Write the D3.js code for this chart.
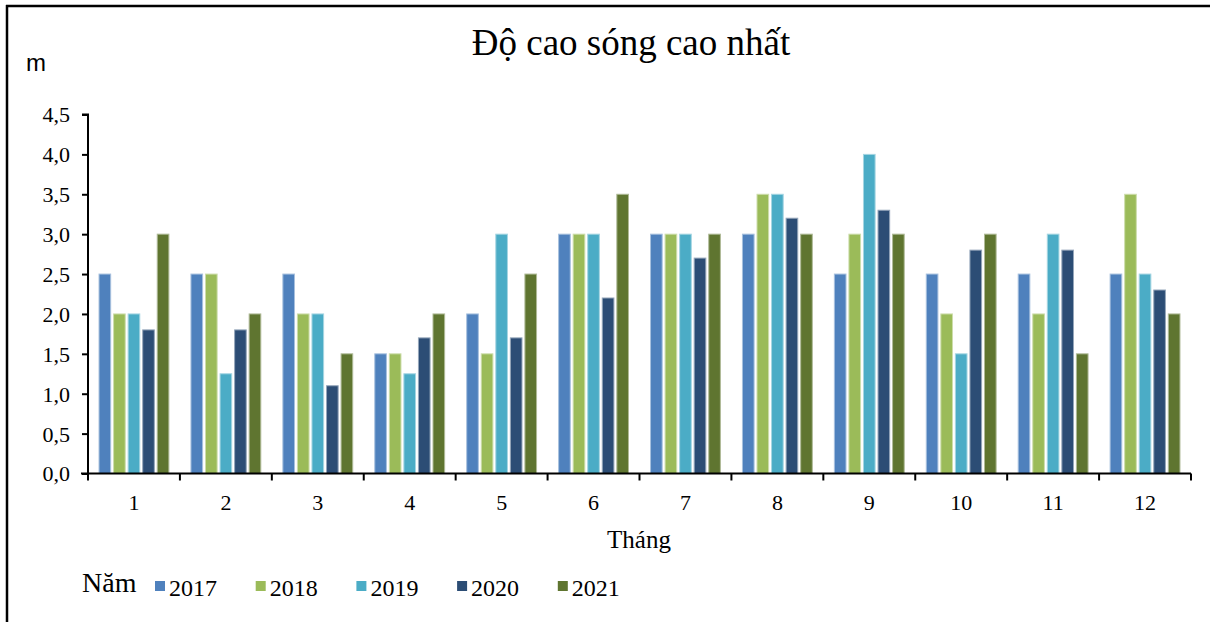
<!DOCTYPE html>
<html>
<head>
<meta charset="utf-8">
<script src="https://cdn.jsdelivr.net/npm/d3@7"></script>
<style>
  html, body { margin: 0; padding: 0; background: #fff; }
  svg { display: block; }
</style>
</head>
<body>
<svg id="chart" width="1210" height="622"></svg>
<script>
// Monthly maximum wave height (m), one series per year
const months = ["1", "2", "3", "4", "5", "6", "7", "8", "9", "10", "11", "12"];
const years = ["2017", "2018", "2019", "2020", "2021"];
const values2017 = [2.5, 2.5, 2.5, 1.5, 2.0, 3.0, 3.0, 3.0, 2.5, 2.5, 2.5, 2.5];
const values2018 = [2.0, 2.5, 2.0, 1.5, 1.5, 3.0, 3.0, 3.5, 3.0, 2.0, 2.0, 3.5];
const values2019 = [2.0, 1.25, 2.0, 1.25, 3.0, 3.0, 3.0, 3.5, 4.0, 1.5, 3.0, 2.5];
const values2020 = [1.8, 1.8, 1.1, 1.7, 1.7, 2.2, 2.7, 3.2, 3.3, 2.8, 2.8, 2.3];
const values2021 = [3.0, 2.0, 1.5, 2.0, 2.5, 3.5, 3.0, 3.0, 3.0, 3.0, 1.5, 2.0];
const yTicks = [0, 0.5, 1.0, 1.5, 2.0, 2.5, 3.0, 3.5, 4.0, 4.5];

const seriesValues = [values2017, values2018, values2019, values2020, values2021];
const colors = ["#4F81BD", "#9BBB59", "#4BACC6", "#2C4D75", "#5F7530"];
const edgeColors = ["#A7C0DE", "#CDDDAC", "#A5D5E2", "#95A6BA", "#AFBA97"];

const svg = d3.select("#chart");
const serif = "'Liberation Serif', 'Times New Roman', serif";
const sans = "'Liberation Sans', Arial, sans-serif";

// frame lines (left and top)
svg.append("line").attr("x1", 7).attr("x2", 7).attr("y1", 5).attr("y2", 622)
  .attr("stroke", "#000").attr("stroke-width", 2.5);
svg.append("line").attr("x1", 6).attr("x2", 1210).attr("y1", 6).attr("y2", 6)
  .attr("stroke", "#000").attr("stroke-width", 2.5);

const plot = { left: 88, right: 1191, top: 114.5, bottom: 473.5 };

const x = d3.scaleBand().domain(months).range([plot.left, plot.right])
  .paddingInner(0.24).paddingOuter(0.12);
const xInner = d3.scaleBand().domain(years).range([0, x.bandwidth()]).paddingInner(0.2);
const y = d3.scaleLinear().domain([0, 4.5]).range([plot.bottom, plot.top]);

// title
svg.append("text").attr("x", 631).attr("y", 55).attr("text-anchor", "middle")
  .attr("font-family", serif).attr("font-size", 37).attr("fill", "#000")
  .text("Độ cao sóng cao nhất");

// unit label
svg.append("text").attr("x", 26).attr("y", 71)
  .attr("font-family", sans).attr("font-size", 24).attr("fill", "#000").text("m");

// bars
const rows = months.map((m, i) => ({ month: m, vals: seriesValues.map(s => s[i]) }));
const groups = svg.append("g").selectAll("g").data(rows).join("g")
  .attr("transform", d => `translate(${x(d.month)},0)`);
groups.selectAll("rect")
  .data(d => d.vals.map((v, j) => ({ year: years[j], v, j })))
  .join("rect")
  .attr("x", d => xInner(d.year))
  .attr("width", xInner.bandwidth())
  .attr("y", d => y(d.v))
  .attr("height", d => y(0) - y(d.v))
  .attr("fill", d => colors[d.j])
  .attr("stroke", d => edgeColors[d.j])
  .attr("stroke-width", 1);

// y axis
const fmt = d => d3.format(".1f")(d).replace(".", ",");
const yAxis = svg.append("g").attr("transform", `translate(${plot.left},0)`)
  .attr("font-family", serif)
  .call(d3.axisLeft(y).tickValues(yTicks).tickFormat(fmt).tickSize(6).tickPadding(12));
yAxis.attr("font-family", serif).attr("font-size", 22);
yAxis.select(".domain").attr("stroke", "#000").attr("stroke-width", 2)
  .attr("d", `M-6,${plot.top}H0V${plot.bottom}`);
yAxis.selectAll(".tick line").attr("stroke", "#000").attr("stroke-width", 2);
yAxis.selectAll(".tick text").attr("font-family", serif).attr("font-size", 22).attr("fill", "#000")
  .attr("dy", "0.34em");

// x axis: baseline with tick marks on category boundaries
const xAxis = svg.append("g");
xAxis.append("line").attr("x1", plot.left - 7).attr("x2", plot.right)
  .attr("y1", plot.bottom).attr("y2", plot.bottom)
  .attr("stroke", "#000").attr("stroke-width", 2);
const boundaries = months.map(m => x(m) - x.step() * x.paddingInner() / 2)
  .concat([plot.right]);
boundaries[0] = plot.left;
xAxis.selectAll("line.tick").data(boundaries).join("line").attr("class", "tick")
  .attr("x1", d => d).attr("x2", d => d)
  .attr("y1", plot.bottom).attr("y2", plot.bottom + 7)
  .attr("stroke", "#000").attr("stroke-width", 2);
xAxis.selectAll("text").data(months).join("text")
  .attr("x", d => x(d) + x.bandwidth() / 2).attr("y", 510)
  .attr("text-anchor", "middle")
  .attr("font-family", serif).attr("font-size", 22).attr("fill", "#000")
  .text(d => d);

// x axis title
svg.append("text").attr("x", 639).attr("y", 548).attr("text-anchor", "middle")
  .attr("font-family", serif).attr("font-size", 25).attr("fill", "#000").text("Tháng");

// legend
const legend = svg.append("g");
legend.append("text").attr("x", 82).attr("y", 592)
  .attr("font-family", serif).attr("font-size", 28).attr("fill", "#000").text("Năm");
const legendStep = 100.7;
const items = legend.selectAll("g.item").data(years).join("g").attr("class", "item")
  .attr("transform", (d, i) => `translate(${155 + i * legendStep},0)`);
items.append("rect").attr("x", 0).attr("y", 581).attr("width", 10).attr("height", 10)
  .attr("fill", (d, i) => colors[i]);
items.append("text").attr("x", 14).attr("y", 596)
  .attr("font-family", serif).attr("font-size", 24).attr("fill", "#000").text(d => d);
</script>
</body>
</html>
